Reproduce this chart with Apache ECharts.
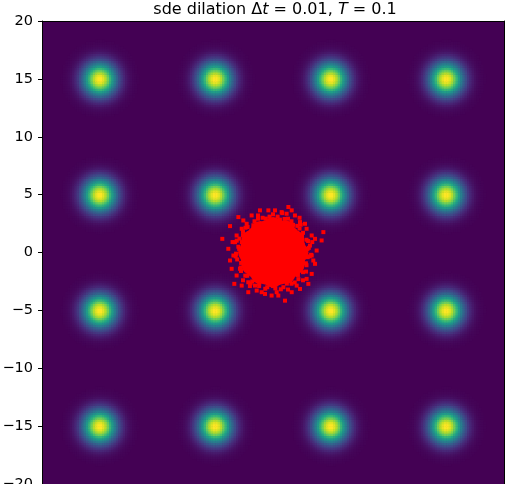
<!DOCTYPE html>
<html lang="en">
<head>
<meta charset="UTF-8">
<title>sde dilation</title>
<script src="https://cdn.jsdelivr.net/npm/echarts@6/dist/echarts.min.js"></script>
<style>html,body{margin:0;padding:0;background:#fff}</style>
</head>
<body>
<div id="chart" style="width:513px;height:484px;"></div>
<script>
// centres of the density bumps and their width
const bumpX = [-15, -5, 5, 15];
const bumpY = [-15, -5, 5, 15];
const bumpSigma = 1.0;
const cellStep = 0.2;
const yTicks = [-20, -15, -10, -5, 0, 5, 10, 15, 20];

// solid middle of the particle cloud
const coreX = [0, 1.2, 0.75, -0.27, -1.08, -1.08, -0.27, 0.75,
  2.25, 1.9, 1.1, 0.0, -1.1, -1.9, -2.2, -1.9, -1.1, 0.0, 1.1, 1.9,
  1.98, 1.45, 0.53, -0.53, -1.45, -1.98, -1.98, -1.45, -0.53, 0.53, 1.45, 1.98];
const coreY = [0, 0, 0.93, 1.17, 0.52, -0.52, -1.17, -0.93,
  0.0, 1.1, 1.95, 2.25, 1.9, 1.1, 0.0, -1.1, -1.9, -2.2, -1.9, -1.1,
  0.53, 1.45, 1.98, 1.98, 1.45, 0.53, -0.53, -1.45, -1.98, -1.98, -1.45, -0.53];

// loose particles at the rim of the cloud
const rimX = [-4.39, -3.72, -3.87, -3.72, -3.35, -2.14, -3.00, -2.57, -1.85, -1.13, -0.40, 0.17,
  1.33, 1.62, 1.18, 2.34, 2.77, 3.35, 3.64, 4.21, 4.36, 3.78, 3.49, 3.64, 3.35, 3.06, 2.34,
  1.62, 1.04, 0.46, -0.12, -0.98, -1.41, -1.56, -2.71, -3.15, -3.58, -3.43, -3.29, -3.15,
  -2.71, -2.28, 0.75, 1.90, 2.91, 3.20, 3.35, 2.91, 2.05, 0.32, -0.69, -2.14, -2.86,
  -3.0, -3.1, -2.9, -2.6, -2.2, -1.6, -0.9, -0.3, 0.4, 1.0, 1.6, 2.1, 2.6, 2.9, 3.1, 3.0,
  2.9, 2.6, 2.2, 1.6, 0.9, 0.2, -0.5, -1.2, -1.8, -2.4, -2.8, -3.2, -2.7, 3.3, 2.4, -2.0,
  1.3, -1.3, 0.8, 3.4, -3.5, 2.6, -2.6, 2.3,
  2.98, 3.04, 2.51, 2.30, 1.73, 1.30, 0.60, 0.0, -0.62, -1.30, -1.70, -2.38, -2.60, -3.14,
  -2.93, -3.23, -2.76, -2.77, -2.23, -1.94, -1.20, -0.67, 0.0, 0.68, 1.20, 1.88, 2.16, 2.86,
  2.85, 3.18];
const rimY = [1.18, 2.28, 0.32, -0.69, -2.71, -3.43, 3.06, 2.77, 3.20, 3.64, 3.64, 3.64,
  3.93, 3.64, 3.35, 2.63, 2.48, 1.47, 1.18, 1.04, 1.76, 0.17, -0.69, -0.98, -1.85, -2.71, -3.15,
  -3.43, -4.16, -3.72, -3.72, -3.43, -3.29, -2.86, -2.86, -1.99, -1.41, -0.26, 0.89, 1.47,
  2.05, 2.48, 3.49, 3.20, 2.05, 0.60, -0.26, -2.28, -2.86, -3.43, -3.58, -2.57, -1.41,
  0.5, -0.6, 1.2, 1.8, 2.2, 2.7, 3.0, 3.1, 3.1, 2.9, 2.7, 2.3, 1.7, 1.1, 0.4, -0.4,
  -1.1, -1.7, -2.3, -2.7, -3.0, -3.1, -3.0, -2.9, -2.5, -2.0, -1.3, -0.1, 0.9, -0.2, 2.4, -2.9,
  -3.2, 3.2, 3.4, 0.9, 0.9, -2.4, -2.4, 3.0,
  0.31, 0.99, 1.45, 2.07, 2.39, 2.92, 2.84, 3.3, 2.93, 2.92, 2.35, 2.14, 1.50, 1.02,
  0.31, -0.34, -0.90, -1.60, -2.01, -2.67, -2.69, -3.13, -2.9, -3.18, -2.69, -2.59, -1.94, -1.65,
  -0.93, -0.33];

const viridis = ['#440154', '#482475', '#414487', '#355f8d', '#2a788e', '#21918c',
  '#22a884', '#44bf70', '#7ad151', '#bddf26', '#fde725'];

// density field on a regular grid (cells far from every bump stay background colour)
let cells = [];
let peak = 0;
for (let x = -20 + cellStep / 2; x < 20; x += cellStep) {
  for (let y = -20 + cellStep / 2; y < 20; y += cellStep) {
    let v = 0;
    bumpX.forEach(cx => {
      bumpY.forEach(cy => {
        const d2 = (x - cx) * (x - cx) + (y - cy) * (y - cy);
        v += Math.exp(-d2 / (2 * bumpSigma * bumpSigma));
      });
    });
    if (v > peak) peak = v;
    if (v > 0.004) cells.push([x, y, v]);
  }
}
cells = cells.map(c => [c[0], c[1], c[2] / peak]);

const coreData = coreX.map((x, i) => [x, coreY[i]]);
const rimData = rimX.map((x, i) => [x, rimY[i]]);

let chart = echarts.init(document.getElementById('chart'));
const minus = v => String(v).replace('-', '\u2212');
const axisFont = { fontFamily: 'DejaVu Sans', fontSize: 14.5, color: '#000' };
const line = { show: true, onZero: false, lineStyle: { color: '#000', width: 1 } };
const txt = { fontFamily: 'DejaVu Sans', fontSize: 16, fontWeight: 'normal', color: '#000' };

let option = {
  animation: false,
  title: {
    text: '{n|sde dilation \u0394}{i|t}{n| = 0.01, }{i|T}{n| = 0.1}',
    left: 270, top: -3, textAlign: 'center',
    textStyle: {
      fontWeight: 'normal',
      rich: { n: txt, i: Object.assign({}, txt, { fontStyle: 'italic' }) }
    }
  },
  grid: {
    left: 42, right: 9, top: 21, bottom: 0, outerBoundsMode: 'none',
    show: true, backgroundColor: viridis[0], borderWidth: 0
  },
  visualMap: { show: false, seriesIndex: 0, dimension: 2, min: 0, max: 1, inRange: { color: viridis } },
  xAxis: [
    { type: 'value', min: -20, max: 20, interval: 5, position: 'bottom', z: 10,
      axisLine: { show: false }, axisTick: { show: false }, axisLabel: { show: false }, splitLine: { show: false } },
    { type: 'value', min: -20, max: 20, position: 'top', z: 10,
      axisLine: line, axisTick: { show: false }, axisLabel: { show: false }, splitLine: { show: false } }
  ],
  yAxis: [
    { type: 'value', min: yTicks[0], max: yTicks[yTicks.length - 1], interval: 5, position: 'left', z: 10,
      axisLine: line, axisTick: { show: true, length: 4, lineStyle: { color: '#000' } },
      axisLabel: Object.assign({ margin: 9, formatter: minus }, axisFont), splitLine: { show: false } },
    { type: 'value', min: -20, max: 20, position: 'right', z: 10,
      axisLine: line, axisTick: { show: false }, axisLabel: { show: false }, splitLine: { show: false } }
  ],
  series: [
    {
      type: 'custom',
      clip: true,
      progressive: 0,
      data: cells,
      encode: { x: 0, y: 1 },
      renderItem: function (params, api) {
        const x = api.value(0), y = api.value(1);
        const p0 = api.coord([x - cellStep / 2, y + cellStep / 2]);
        const p1 = api.coord([x + cellStep / 2, y - cellStep / 2]);
        return {
          type: 'rect',
          shape: { x: p0[0], y: p0[1], width: p1[0] - p0[0] + 0.6, height: p1[1] - p0[1] + 0.6 },
          style: { fill: api.visual('color') }
        };
      }
    },
    { type: 'scatter', data: coreData, symbol: 'circle', symbolSize: 19, itemStyle: { color: '#ff0000', opacity: 1 }, z: 3 },
    { type: 'scatter', data: rimData, symbol: 'rect', symbolSize: 4, itemStyle: { color: '#ff0000', opacity: 1 }, z: 3 }
  ]
};

chart.setOption(option);
</script>
</body>
</html>
